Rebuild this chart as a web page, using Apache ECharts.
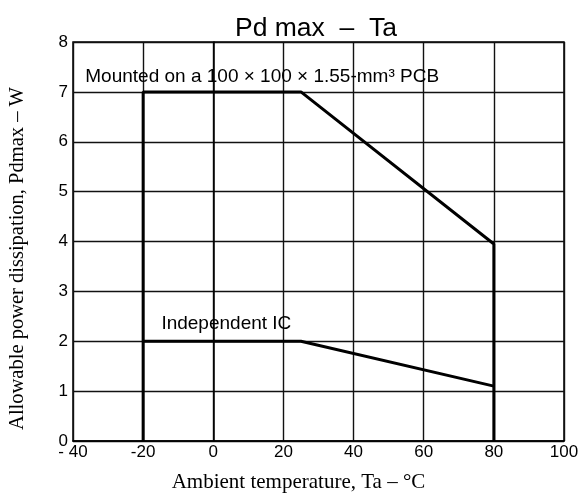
<!DOCTYPE html>
<html>
<head>
<meta charset="utf-8">
<script src="https://cdn.jsdelivr.net/npm/echarts@6/dist/echarts.min.js"></script>
<style>
  html, body { margin: 0; padding: 0; background: #fff; }
  #main { width: 583px; height: 493px; }
</style>
</head>
<body>
<div id="main"></div>
<script>
// curve on the 100 x 100 x 1.55 mm PCB
var tempPCB = [-20, -20, 25, 80, 80];
var powerPCB = [0, 7, 7, 3.95, 0];
// independent IC curve
var tempIC = [-20, 25, 80];
var powerIC = [2, 2, 1.1];

var xTicks = [-40, -20, 0, 20, 40, 60, 80, 100];
var xTickText = ['- 40', '-20', '0', '20', '40', '60', '80', '100'];
var yTicks = [0, 1, 2, 3, 4, 5, 6, 7, 8];

var notes = [
  { name: 'Mounted on a 100 × 100 × 1.55-mm³ PCB', value: [-36.5, 7.31] },
  { name: 'Independent IC', value: [-14.8, 2.35] }
];

function pairs(xs, ys) {
  return xs.map(function (x, i) { return [x, ys[i]]; });
}

var dom = document.getElementById('main');
var myChart = echarts.init(dom);
var sans = 'Liberation Sans';
var serif = 'Liberation Serif';

var option = {
  backgroundColor: '#fff',
  animation: false,
  title: {
    text: 'Pd max  –  Ta',
    left: 235,
    top: 15,
    padding: 0,
    textStyle: { fontFamily: sans, fontSize: 26.5, fontWeight: 'normal', color: '#000' }
  },
  grid: {
    left: 73, right: 19, top: 42, bottom: 52,
    outerBoundsMode: 'none',
    show: true, borderColor: '#000', borderWidth: 1.5
  },
  xAxis: {
    type: 'value',
    min: xTicks[0],
    max: xTicks[xTicks.length - 1],
    interval: 20,
    name: 'Ambient temperature, Ta – °C',
    nameLocation: 'middle',
    nameGap: 31,
    nameTextStyle: { fontFamily: serif, fontSize: 21, color: '#000', padding: [0, 40, 0, 0] },
    axisLine: { show: true, lineStyle: { color: '#000', width: 1.5 } },
    axisTick: { show: false },
    axisLabel: {
      color: '#000', fontFamily: sans, fontSize: 17, margin: 3,
      formatter: function (v) { return xTickText[xTicks.indexOf(v)]; }
    },
    splitLine: { show: true, lineStyle: { color: '#111', width: 1.4 } }
  },
  yAxis: {
    type: 'value',
    min: yTicks[0],
    max: yTicks[yTicks.length - 1],
    interval: 1,
    name: 'Allowable power dissipation, Pdmax – W',
    nameLocation: 'middle',
    nameGap: 45,
    nameTextStyle: { fontFamily: serif, fontSize: 20.5, color: '#000', padding: [0, 34, 0, 0] },
    axisLine: { show: true, lineStyle: { color: '#000', width: 1.5 } },
    axisTick: { show: false },
    axisLabel: { color: '#000', fontFamily: sans, fontSize: 17, margin: 5 },
    splitLine: { show: true, lineStyle: { color: '#111', width: 1.4 } }
  },
  series: [
    {
      type: 'line',
      data: pairs(tempPCB, powerPCB),
      showSymbol: false,
      lineStyle: { color: '#000', width: 3 }
    },
    {
      type: 'line',
      data: pairs(tempIC, powerIC),
      showSymbol: false,
      lineStyle: { color: '#000', width: 3 }
    },
    {
      type: 'scatter',
      data: notes,
      symbolSize: 0,
      itemStyle: { opacity: 1 },
      label: {
        show: true,
        position: 'right',
        distance: 0,
        formatter: '{b}',
        color: '#000',
        fontFamily: sans,
        fontSize: 19
      }
    }
  ]
};
myChart.setOption(option, true);
</script>
</body>
</html>
